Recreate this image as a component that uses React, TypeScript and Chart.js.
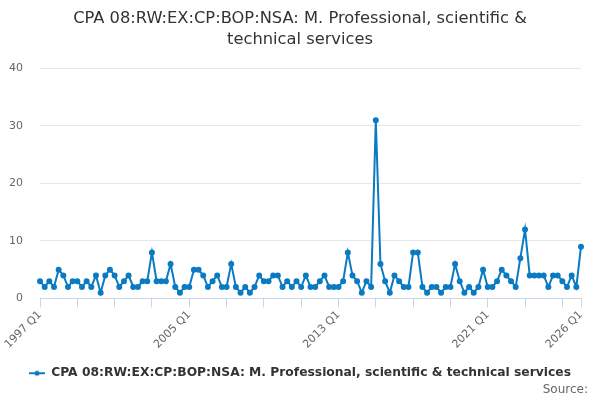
import React, { useEffect, useRef } from "react";
import { Chart, registerables } from "chart.js";

Chart.register(...registerables);

const seriesName = "CPA 08:RW:EX:CP:BOP:NSA: M. Professional, scientific & technical services";
const titleLines = ["CPA 08:RW:EX:CP:BOP:NSA: M. Professional, scientific &", "technical services"];
const sourceText = "Source:";
const startYear = 1997;
const endYear = 2026;
const labelYears = [1997, 2005, 2013, 2021, 2026];

const quarters: string[] = [];
for (let y = startYear; y <= endYear; y++) {
  for (let q = 1; q <= 4; q++) {
    if (y === endYear && q > 1) break;
    quarters.push(`${y} Q${q}`);
  }
}

const values = [
  3, 2, 3, 2, 5, 4, 2, 3, 3, 2, 3, 2, 4, 1, 4, 5, 4, 2, 3, 4, 2, 2, 3, 3, 8, 3, 3, 3,
  6, 2, 1, 2, 2, 5, 5, 4, 2, 3, 4, 2, 2, 6, 2, 1, 2, 1, 2, 4, 3, 3, 4, 4, 2, 3, 2, 3,
  2, 4, 2, 2, 3, 4, 2, 2, 2, 3, 8, 4, 3, 1, 3, 2, 31, 6, 3, 1, 4, 3, 2, 2, 8, 8, 2, 1, 2, 2,
  1, 2, 2, 6, 3, 1, 2, 1, 2, 5, 2, 2, 3, 5, 4, 3, 2, 7, 12, 4, 4, 4, 4, 2, 4, 4, 3, 2, 4, 2, 9,
];

const yTicks = [0, 10, 20, 30, 40];

const FONT = "'DejaVu Sans', sans-serif";
const BLUE = "#0a7bc2";

function makeLegendSymbol(): HTMLCanvasElement {
  const c = document.createElement("canvas");
  c.width = 16;
  c.height = 8;
  const ctx = c.getContext("2d")!;
  ctx.strokeStyle = BLUE;
  ctx.lineWidth = 2;
  ctx.beginPath();
  ctx.moveTo(0, 4);
  ctx.lineTo(16, 4);
  ctx.stroke();
  ctx.fillStyle = BLUE;
  ctx.beginPath();
  ctx.arc(8, 4, 2.5, 0, Math.PI * 2);
  ctx.fill();
  return c;
}

const sourcePlugin = {
  id: "sourceText",
  afterDraw(chart: any) {
    const ctx = chart.ctx;
    ctx.save();
    ctx.font = `12px ${FONT}`;
    ctx.fillStyle = "#666666";
    ctx.textAlign = "right";
    ctx.textBaseline = "middle";
    ctx.fillText(sourceText, 588, 390);
    ctx.restore();
  },
};

export default function App() {
  const ref = useRef<HTMLCanvasElement | null>(null);

  useEffect(() => {
    if (!ref.current) return;
    const symbol = makeLegendSymbol();
    const tickIdx: number[] = [];
    for (let i = 0; i < quarters.length; i += 8) tickIdx.push(i);
    if (tickIdx[tickIdx.length - 1] !== quarters.length - 1) tickIdx.push(quarters.length - 1);

    const chart = new Chart(ref.current, {
      type: "line",
      data: {
        labels: quarters,
        datasets: [
          {
            label: seriesName,
            data: values,
            borderColor: BLUE,
            backgroundColor: BLUE,
            borderWidth: 2,
            pointRadius: 2,
            pointHoverRadius: 2,
            pointStyle: "circle",
            tension: 0,
          },
        ],
      },
      plugins: [sourcePlugin],
      options: {
        animation: false,
        responsive: true,
        maintainAspectRatio: false,
        layout: { padding: { left: 0, right: 0, top: 6, bottom: 10.6 } },
        plugins: {
          title: {
            display: true,
            text: titleLines,
            color: "#333333",
            font: { family: FONT, size: 16.3, weight: "normal", lineHeight: 1.3 },
            padding: { top: 2, bottom: 18 },
          },
          legend: {
            display: true,
            position: "bottom",
            labels: {
              usePointStyle: true,
              pointStyle: symbol as any,
              pointStyleWidth: 16,
              color: "#333333",
              font: { family: FONT, size: 12.3, weight: "bold" },
              padding: 2,
            },
          },
          tooltip: { enabled: false },
        },
        scales: {
          x: {
            type: "category",
            offset: false,
            border: { display: true, color: "#ccd6eb", width: 1 },
            grid: {
              display: true,
              drawOnChartArea: false,
              drawTicks: true,
              tickLength: 9,
              color: "#ccd6eb",
            },
            afterBuildTicks: (axis: any) => {
              axis.ticks = tickIdx.map((v) => ({ value: v }));
            },
            afterFit: (scale: any) => {
              scale.height += 13;
              scale.paddingLeft = 0;
              scale.paddingRight = 0;
            },
            ticks: {
              autoSkip: false,
              minRotation: 45,
              maxRotation: 45,
              color: "#666666",
              font: { family: FONT, size: 11 },
              padding: 1,
              callback: function (value: any) {
                const label = quarters[value as number];
                const yr = parseInt(label, 10);
                return label.endsWith("Q1") && labelYears.includes(yr) ? label : "";
              },
            },
          },
          y: {
            min: 0,
            max: 40,
            border: { display: false },
            grid: { color: "#e6e6e6", drawTicks: false },
            afterBuildTicks: (axis: any) => {
              axis.ticks = yTicks.map((v) => ({ value: v }));
            },
            afterFit: (scale: any) => {
              scale.width = 40;
            },
            ticks: {
              color: "#666666",
              font: { family: FONT, size: 11 },
              padding: 17,
            },
          },
          yRight: {
            position: "right",
            display: true,
            border: { display: false },
            grid: { display: false, drawTicks: false },
            ticks: { display: false },
            afterFit: (scale: any) => {
              scale.width = 19;
            },
          },
        },
      },
    });
    return () => chart.destroy();
  }, []);

  return (
    <div style={{ position: "fixed", left: 0, top: 0, width: 600, height: 400, background: "#fff" }}>
      <canvas ref={ref} />
    </div>
  );
}
